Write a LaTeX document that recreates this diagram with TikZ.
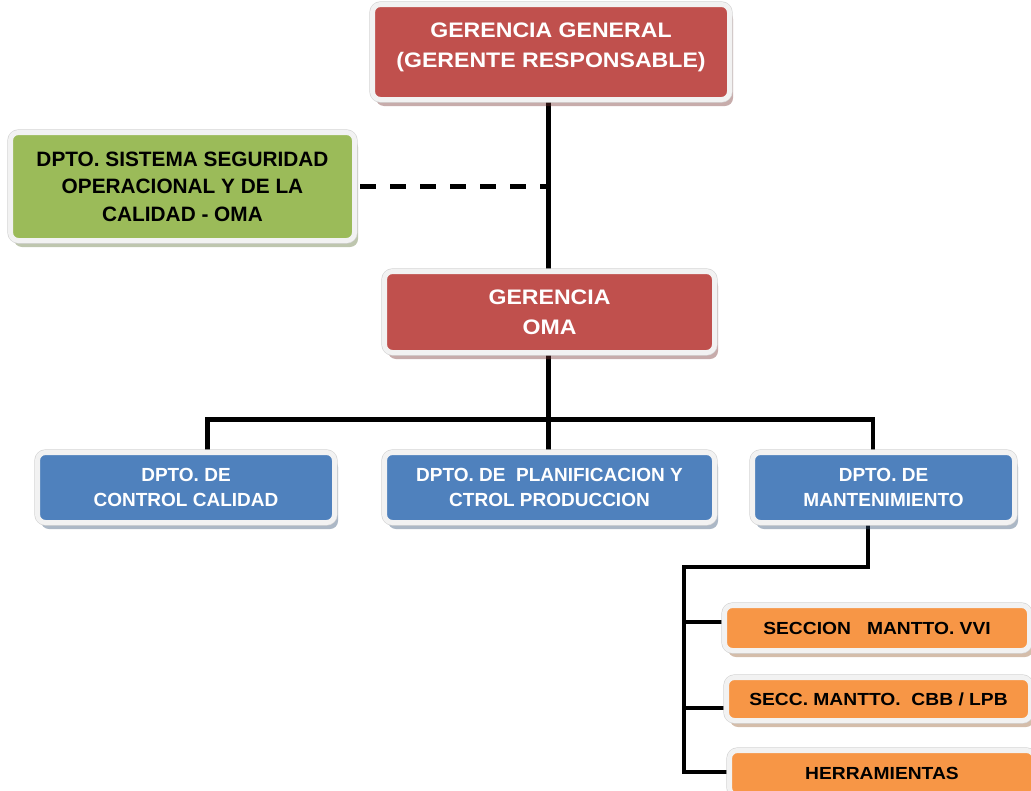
\documentclass[tikz,border=0pt]{standalone}
\usepackage{fontspec}
\setmainfont{Liberation Sans}
\newfontfamily\widesans{Liberation Sans}[FakeStretch=1.1]
\newfontfamily\plainsans{Liberation Sans}
\usetikzlibrary{shadows,backgrounds}

\definecolor{boxred}{HTML}{C0504D}
\definecolor{boxgreen}{HTML}{9BBB59}
\definecolor{boxblue}{HTML}{4F81BD}
\definecolor{boxorange}{HTML}{F79646}
\definecolor{ringfill}{HTML}{F2F2F2}
\definecolor{ringedge}{HTML}{D2D2D2}

\tikzset{
  % rounded box with a pale frame and a soft shadow
  orgbox/.style={rectangle, rounded corners=8pt, fill=#1,
    drop shadow={shadow xshift=3.5pt, shadow yshift=-6.5pt,
                 fill=#1!60!black, opacity=0.4},
    preaction={draw=ringedge, line width=6.2pt},
    draw=ringfill, line width=5pt, align=center, inner sep=0pt},
  redtxt/.style={text=white, font=\widesans\bfseries\fontsize{21}{30}\selectfont},
  greentxt/.style={text=black, font=\plainsans\bfseries\fontsize{20.8}{27.5}\selectfont},
  bluetxt/.style={text=white, font=\plainsans\bfseries\fontsize{19}{25}\selectfont},
  orangetxt/.style={text=black, font=\widesans\bfseries\fontsize{17.5}{21}\selectfont},
  conn/.style={line width=4.5pt, black},
  dashconn/.style={line width=5pt, black, dash pattern=on 16pt off 14pt},
}

\begin{document}
\begin{tikzpicture}[x=1pt, y=-1pt]
\useasboundingbox (0,0) rectangle (1031,790);

% management boxes
\node[orgbox=boxred, redtxt, minimum width=357pt, minimum height=95pt] (gg) at (551,52)
  {GERENCIA GENERAL\\(GERENTE RESPONSABLE)\rule[-13.5pt]{0pt}{13.5pt}};
\node[orgbox=boxgreen, greentxt, minimum width=344pt, minimum height=108pt] (ssq) at (182.5,186.5)
  {DPTO. SISTEMA SEGURIDAD\\OPERACIONAL Y DE LA\\CALIDAD - OMA};
\node[orgbox=boxred, redtxt, minimum width=330pt, minimum height=81pt] (oma) at (549.5,312)
  {GERENCIA\\OMA};

% departments
\node[orgbox=boxblue, bluetxt, minimum width=297pt, minimum height=70pt] (cc) at (186,487.5)
  {DPTO. DE\\CONTROL CALIDAD};
\node[orgbox=boxblue, bluetxt, minimum width=330pt, minimum height=70pt] (plan) at (549.5,487.5)
  {DPTO. DE\ \ PLANIFICACION Y\\CTROL PRODUCCION};
\node[orgbox=boxblue, bluetxt, minimum width=262pt, minimum height=70pt] (mant) at (883.5,487.5)
  {DPTO. DE\\MANTENIMIENTO};

% maintenance sections
\node[orgbox=boxorange, orangetxt, minimum width=305pt, minimum height=45pt] (vvi) at (877,628)
  {SECCION\ \ \ MANTTO. VVI};
\node[orgbox=boxorange, orangetxt, minimum width=304pt, minimum height=43pt] (cbb) at (878.5,699)
  {SECC. MANTTO.\ \ CBB / LPB};
\node[orgbox=boxorange, orangetxt, minimum width=305pt, minimum height=45pt] (herr) at (882,773)
  {HERRAMIENTAS};

% routing points of the connectors
\coordinate (trunk) at (548.5,0);
\coordinate (busL) at (207.5,419.5);
\coordinate (busR) at (873,419.5);
\coordinate (mdrop) at (868,567);
\coordinate (spine) at (684,567);
\coordinate (b1) at ([yshift=6pt]vvi.west);
\coordinate (b2) at ([yshift=-9pt]cbb.west);
\coordinate (b3) at ([yshift=1pt]herr.west);

\begin{scope}[on background layer]
  \draw[conn] (gg.south -| trunk) -- (oma.north -| trunk);
  \draw[dashconn] ([xshift=3pt]ssq.east) -- (ssq.east -| trunk);
  \draw[conn] (oma.south -| trunk) -- (plan.north -| trunk);
  \draw[conn] (cc.north -| busL) -- (busL) -- (busR) -- (mant.north -| busR);
  \draw[conn] (mant.south -| mdrop) -- (mdrop) -- (spine) -- (spine |- b3) -- (b3);
  \draw[conn] (spine |- b1) -- (b1);
  \draw[conn] (spine |- b2) -- (b2);
\end{scope}
\end{tikzpicture}
\end{document}
